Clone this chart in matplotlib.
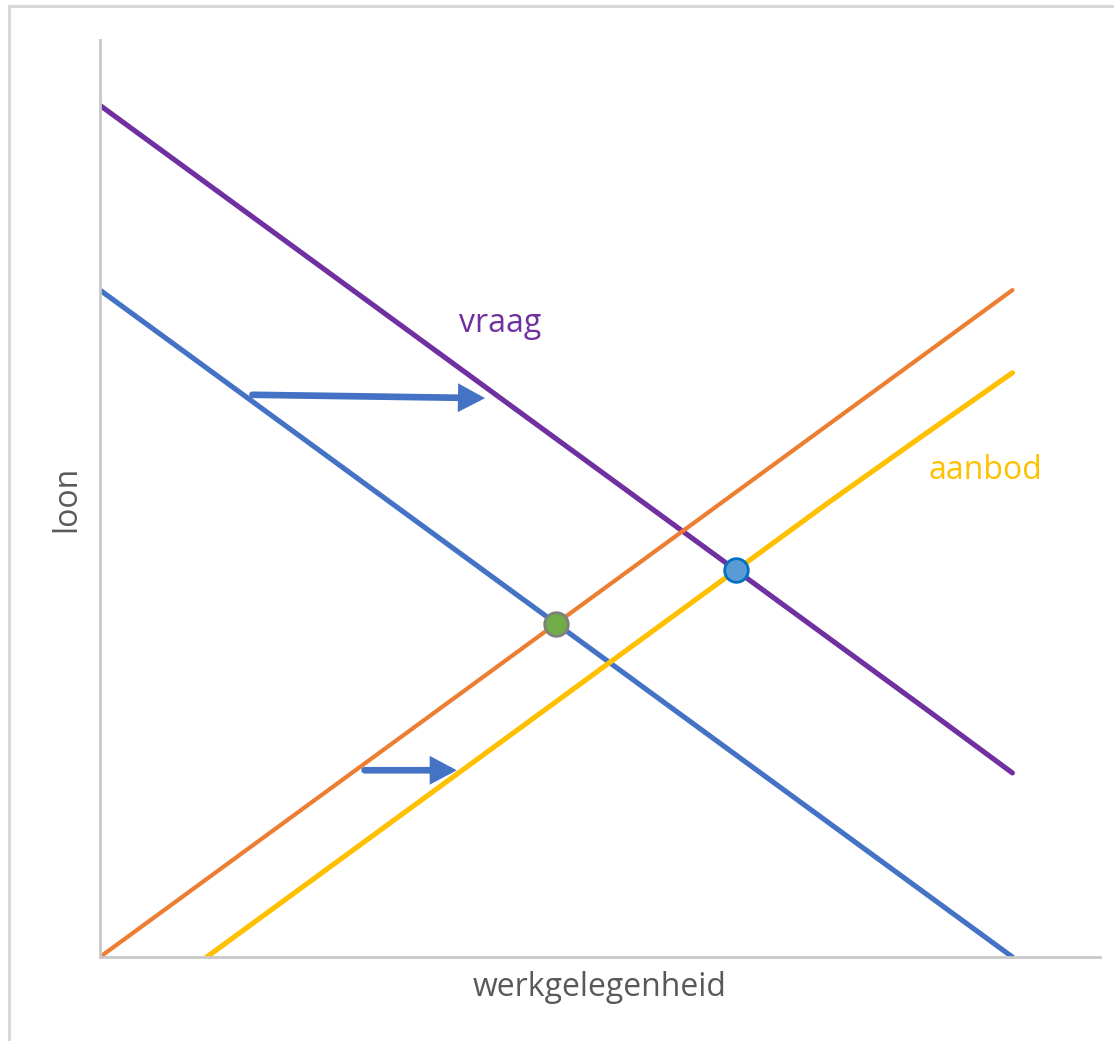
import matplotlib.pyplot as plt
from matplotlib.patches import Rectangle

plt.rcParams['font.family'] = ['Open Sans', 'DejaVu Sans']

# werkgelegenheid (x) en loon (y), af te lezen uit de figuur
x = [0, 1, 2, 3, 4, 5, 6, 7, 8, 9, 10]
vraag_oud = [10.0, 9.0, 8.0, 7.0, 6.0, 5.0, 4.0, 3.0, 2.0, 1.0, 0.0]
vraag_nieuw = [12.77, 11.77, 10.77, 9.77, 8.77, 7.77, 6.77, 5.77, 4.77, 3.77, 2.76]
aanbod_oud = [0.0, 1.0, 2.0, 3.0, 4.0, 5.0, 6.0, 7.0, 8.0, 9.0, 10.0]
x_aanbod_nieuw = [1.17, 2, 3, 4, 5, 6, 7, 8, 9, 10]
aanbod_nieuw = [0.0, 0.83, 1.83, 2.83, 3.83, 4.83, 5.83, 6.83, 7.8, 8.76]

evenwicht_oud = (5.0, 5.0)
evenwicht_nieuw = (6.97, 5.8)

pijl_vraag = ((1.67, 8.43), (4.22, 8.38))
pijl_aanbod = ((2.9, 2.8), (3.91, 2.8))

fig = plt.figure(figsize=(11.14, 10.41), dpi=100)
ax = fig.add_axes([100/1114, 1-957/1041, 1000/1114, 917/1041])

ax.plot(x, vraag_oud, color='#4472C4', lw=3.7, solid_capstyle='round')
ax.plot(x, vraag_nieuw, color='#7030A0', lw=3.7, solid_capstyle='round')
ax.plot(x, aanbod_oud, color='#ED7D31', lw=3.0, solid_capstyle='round')
ax.plot(x_aanbod_nieuw, aanbod_nieuw, color='#FFC000', lw=3.7, solid_capstyle='round')

ax.plot(*evenwicht_oud, 'o', ms=17, mfc='#70AD47', mec='#7F7F7F', mew=2, zorder=5)
ax.plot(*evenwicht_nieuw, 'o', ms=17, mfc='#5B9BD5', mec='#0070C0', mew=2, zorder=5)

for (x0, y0), (x1, y1) in [pijl_vraag, pijl_aanbod]:
    ax.annotate('', xy=(x1, y1), xytext=(x0, y0),
                arrowprops=dict(arrowstyle='-|>,head_length=0.6,head_width=0.32',
                                mutation_scale=20, color='#4472C4', lw=4.8,
                                shrinkA=0, shrinkB=0, joinstyle='miter'))

ax.text(4.38, 9.5, 'vraag', color='#7030A0', fontsize=23, ha='center', va='center')
ax.text(9.7, 7.3, 'aanbod', color='#FFC000', fontsize=23, ha='center', va='center')

ax.set_xlim(0, 10.96)
ax.set_ylim(0, 13.75)
ax.set_xticks([])
ax.set_yticks([])
for s in ['top', 'right']:
    ax.spines[s].set_visible(False)
for s in ['left', 'bottom']:
    ax.spines[s].set_color('#C8C8C8')
    ax.spines[s].set_linewidth(2)

ax.set_xlabel('werkgelegenheid', fontsize=23, color='#595959', labelpad=10)
ax.set_ylabel('loon', fontsize=23, color='#595959', labelpad=12)

# lichtgrijze rand linksboven
fig.patches.append(Rectangle((9/1114, -0.1), 1.2, 1.1 - 6/1041,
                             transform=fig.transFigure, fill=False,
                             edgecolor='#D9D9D9', lw=2.2))

fig.savefig('out.png', dpi=100, facecolor='white')
